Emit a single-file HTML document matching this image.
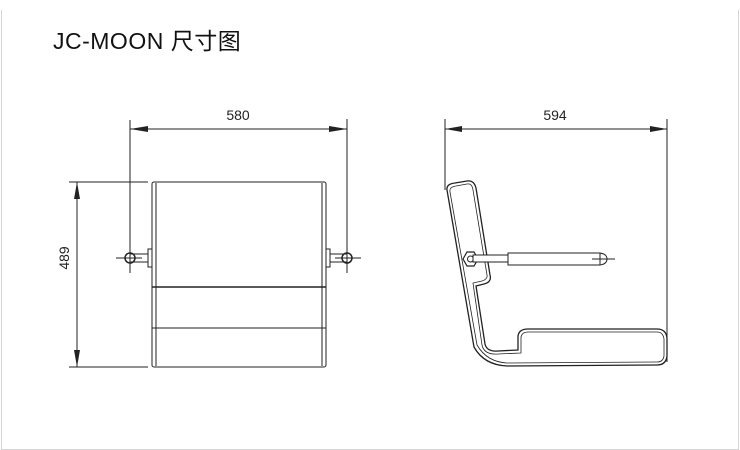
<!DOCTYPE html>
<html><head><meta charset="utf-8"><style>
html,body{margin:0;padding:0;background:#fff;width:740px;height:450px;overflow:hidden}
</style></head><body>
<svg width="740" height="450" xmlns="http://www.w3.org/2000/svg" font-family="Liberation Sans, sans-serif">
<path d="M1.5 10 V449.5 H738.5 V10" fill="none" stroke="#d4d4d4" stroke-width="1"/>
<text x="53" y="49" font-size="23" letter-spacing="0.5" font-family="Liberation Sans, Noto Sans CJK SC, sans-serif" fill="#111">JC-MOON 尺寸图</text>
<g stroke="#222" fill="none" stroke-width="1">
<line x1="130" y1="120" x2="130" y2="273"/><line x1="347" y1="119" x2="347" y2="273"/>
<line x1="130" y1="129" x2="347" y2="129"/>
<line x1="69" y1="182" x2="148" y2="182"/><line x1="69" y1="367" x2="148" y2="367"/>
<line x1="77" y1="182" x2="77" y2="367"/>
<rect x="152" y="182" width="174" height="185" rx="2"/>
<line x1="156" y1="183" x2="156" y2="366"/><line x1="322" y1="183" x2="322" y2="366"/>
<line x1="152" y1="287" x2="326" y2="287" stroke-width="1.5"/>
<line x1="152" y1="328" x2="326" y2="328"/>
<rect x="148" y="249" width="4" height="18"/><rect x="326" y="249" width="4" height="18"/>
<path d="M130 254 H148 M130 262 H148 M347 254 H330 M347 262 H330"/>
<circle cx="130" cy="258" r="5" stroke-width="1.5"/><circle cx="347" cy="258" r="5" stroke-width="1.5"/>
<path d="M116 258 H142 M335 258 H361"/>
<line x1="445" y1="119" x2="445" y2="190"/><line x1="667" y1="119" x2="667" y2="362"/>
<line x1="445" y1="129" x2="667" y2="129"/>
<path d="M447 190 Q446 184 455 183 L467 181 Q474 180 476 188 L490 275 Q492 282 484 284 L476 286 L485 344 Q487 352 498 351 L518 350 L518 336 Q519 329 528 329 L657 329 Q666 329 667 338 L667 356 Q666 365 657 365 L507 366 Q484 365 474 347 Z" stroke-width="1.3"/>
<path d="M450 192 Q449 187 456 186 L467 184 Q472 183 473 190 L487 275 Q488 279 482 281 L473 283 L482 345 Q484 355 498 354 L521 353 L521 337 Q522 332 528 332 L657 332 Q663 332 664 339 L664 356 Q663 362 657 362 L507 363 Q487 362 477 345 Z" stroke-width="0.8"/>
<path d="M463 259 L467 252 L474 252 L478 259 L474 266 L467 266 Z" stroke-width="1.2" fill="#fff"/>
<circle cx="470.5" cy="259" r="3"/>
<rect x="473" y="255" width="35" height="7" fill="#fff"/>
<rect x="508" y="253" width="92" height="12" fill="#fff"/>
<path d="M600 253 Q607 254 607 259 Q607 264 600 265"/>
<path d="M592 259 H615"/>
</g>
<g fill="#222">
<path d="M130 129 L148 126 L148 132 Z M347 129 L329 126 L329 132 Z"/>
<path d="M77 182 L74 199 L80 199 Z M77 367 L74 350 L80 350 Z"/>
<path d="M445 129 L462 126 L462 132 Z M667 129 L650 126 L650 132 Z"/>
</g>
<g font-size="14" fill="#222" text-anchor="middle">
<text x="238" y="120">580</text>
<text x="555" y="120">594</text>
<text transform="translate(69,258) rotate(-90)">489</text>
</g>
</svg>
</body></html>
